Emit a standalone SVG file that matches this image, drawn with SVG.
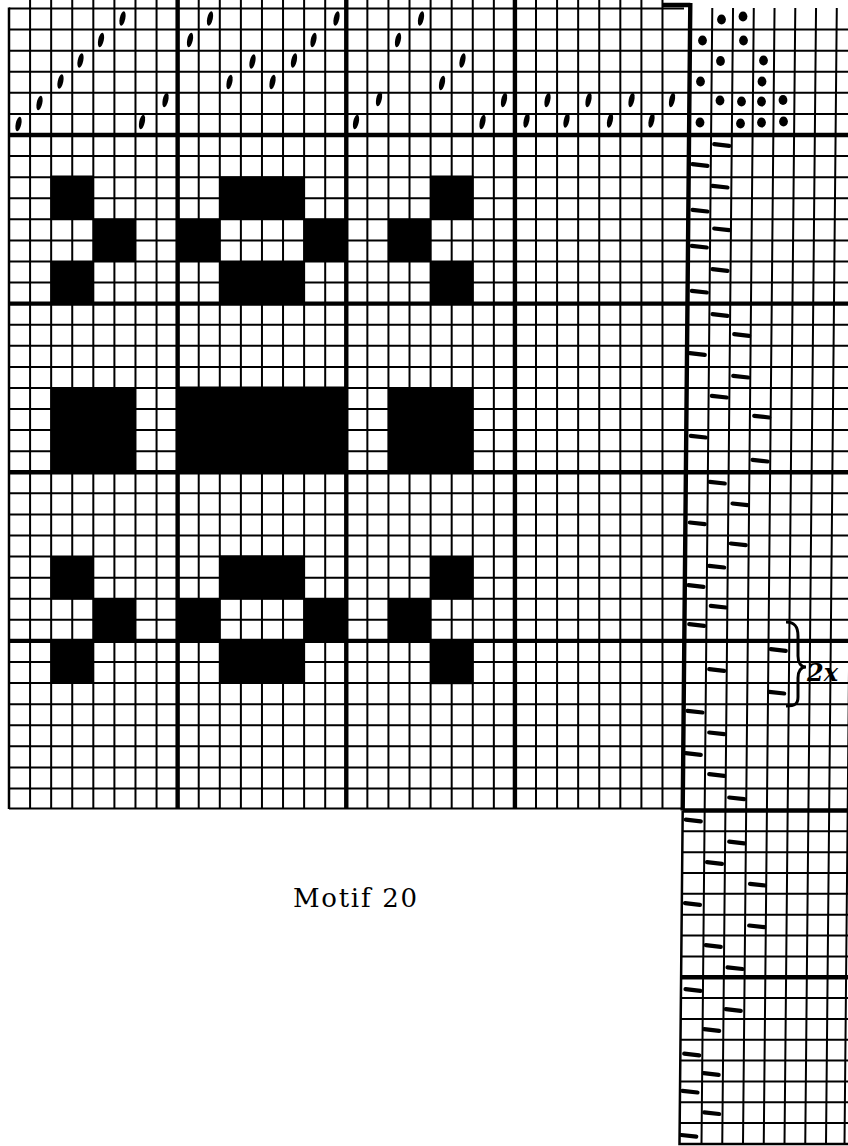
<svg xmlns="http://www.w3.org/2000/svg" xmlns:xlink="http://www.w3.org/1999/xlink" width="848" height="1146" viewBox="0 0 848 1146">
<style>
.thin{fill:none;stroke:#000;stroke-width:2}
.thick{fill:none;stroke:#000;stroke-width:4.4}
.edge{fill:none;stroke:#000;stroke-width:2.5}
.blk{fill:#000}
.mark{fill:#000}
.dash{fill:none;stroke:#000;stroke-width:4.2;stroke-linecap:round}
.title{font-family:"DejaVu Serif","Liberation Serif",serif;font-size:26px;fill:#000}
.hand{font-family:"DejaVu Serif","Liberation Serif",serif;font-size:24px;font-weight:bold;font-style:italic;fill:#000}
</style>
<defs>
<ellipse id="m" cx="0" cy="0" rx="2.8" ry="7.3" transform="rotate(12)" class="mark"/>
<ellipse id="t" cx="0" cy="0" rx="4.4" ry="5.1" class="mark"/>
<path id="d" d="M-7.5 -0.8L7.5 0.8" class="dash"/>
</defs>
<rect x="0" y="0" width="848" height="1146" fill="#fff"/>

<g id="grid-main">
<path class="thin" d="M30.08 0V808.5M51.16 0V808.5M72.24 0V808.5M93.32 0V808.5M114.4 0V808.5M135.48 0V808.5M156.56 0V808.5M198.72 0V808.5M219.8 0V808.5M240.88 0V808.5M261.96 0V808.5M283.04 0V808.5M304.12 0V808.5M325.2 0V808.5M367.36 0V808.5M388.44 0V808.5M409.52 0V808.5M430.6 0V808.5M451.68 0V808.5M472.76 0V808.5M493.84 0V808.5M536 0V808.5M557.08 0V808.5M578.16 0V808.5M599.24 0V808.5M620.32 0V808.5M641.4 0V808.5M662.48 0V808.5"/>
<path class="thin" d="M9 29.6H848M9 50.68H848M9 71.76H848M9 92.84H848M9 113.92H848M9 156.08H848M9 177.16H848M9 198.24H848M9 219.32H848M9 240.4H848M9 261.48H848M9 282.56H848M9 324.72H848M9 345.8H848M9 366.88H848M9 387.96H848M9 409.04H848M9 430.12H848M9 451.2H848M9 493.36H848M9 514.44H848M9 535.52H848M9 556.6H848M9 577.68H848M9 598.76H848M9 619.84H848M9 662H848M9 683.08H848M9 704.16H848M9 725.24H848M9 746.32H848M9 767.4H848M9 788.48H848"/>
<path class="thin" d="M9 8.52H684M9 808.5H683"/>
<path class="edge" d="M9 7.5V809"/>
<path class="thick" d="M177.64 0V808.5M346.28 0V808.5M514.92 0V808.5"/>
<path class="thick" d="M9 135H848M9 303.64H848M9 472.28H848M9 640.92H848"/>
</g>

<g id="grid-right">
<path class="thin" d="M712.29 8L701.5 1144M733.04 8L722.25 1144M753.79 8L743 1144M774.54 8L763.75 1144M795.29 8L784.5 1144M816.04 8L805.25 1144M836.79 8L826 1144M851 460L844.5 1144"/>
<path class="thick" d="M663 5H690.3M690.3 3L682.7 810.5"/>
<path class="thick" d="M682.7 810.5H848M681.1 977.22H848"/>
<path class="edge" d="M682.7 810.5L679.5 1144H848"/>
<path class="thin" d="M682.5 831.34H848M682.3 852.18H848M682.1 873.02H848M681.9 893.86H848M681.7 914.7H848M681.5 935.54H848M681.3 956.38H848M680.9 998.06H848M680.7 1018.9H848M680.5 1039.74H848M680.3 1060.58H848M680.1 1081.42H848M679.9 1102.26H848M679.7 1123.1H848"/>
</g>

<g id="drawdown">
<rect class="blk" x="50.5" y="175.5" width="43.5" height="44"/>
<rect class="blk" x="92.8" y="218.8" width="43.2" height="42.8"/>
<rect class="blk" x="50.5" y="261" width="43.5" height="42.8"/>
<rect class="blk" x="219.3" y="176.5" width="85.3" height="43"/>
<rect class="blk" x="177" y="218.8" width="43.3" height="42.8"/>
<rect class="blk" x="303.6" y="218.8" width="43.3" height="42.8"/>
<rect class="blk" x="219.3" y="261" width="85.3" height="42.8"/>
<rect class="blk" x="430" y="175.5" width="43.5" height="44"/>
<rect class="blk" x="387.9" y="218.8" width="43.3" height="42.8"/>
<rect class="blk" x="430" y="261" width="43.5" height="42.8"/>
<rect class="blk" x="50.5" y="387" width="85.5" height="85.3"/>
<rect class="blk" x="177" y="386.5" width="171" height="85.8"/>
<rect class="blk" x="387.9" y="387" width="85.5" height="85.3"/>
<rect class="blk" x="50.5" y="556" width="43.5" height="43.3"/>
<rect class="blk" x="92.8" y="598.2" width="43.2" height="43.2"/>
<rect class="blk" x="50.5" y="640.4" width="43.5" height="43.2"/>
<rect class="blk" x="219.3" y="555.5" width="85.3" height="43.8"/>
<rect class="blk" x="177" y="598.2" width="43.3" height="43.2"/>
<rect class="blk" x="303.6" y="598.2" width="43.3" height="43.2"/>
<rect class="blk" x="219.3" y="640.4" width="85.3" height="43.2"/>
<rect class="blk" x="430" y="556" width="43.5" height="43.3"/>
<rect class="blk" x="387.9" y="598.2" width="43.3" height="43.2"/>
<rect class="blk" x="430" y="640.4" width="43.5" height="43.8"/>
</g>

<g id="threading">
<use href="#m" x="18.5" y="124"/>
<use href="#m" x="39.5" y="103"/>
<use href="#m" x="60.5" y="81.5"/>
<use href="#m" x="80.5" y="60.5"/>
<use href="#m" x="101" y="40"/>
<use href="#m" x="122.5" y="18.5"/>
<use href="#m" x="142" y="122"/>
<use href="#m" x="165.5" y="100"/>
<use href="#m" x="190" y="40"/>
<use href="#m" x="210" y="18.5"/>
<use href="#m" x="229.5" y="82"/>
<use href="#m" x="252.5" y="61.5"/>
<use href="#m" x="272.5" y="82"/>
<use href="#m" x="294" y="60.5"/>
<use href="#m" x="313.5" y="40"/>
<use href="#m" x="336.5" y="18.5"/>
<use href="#m" x="356" y="122"/>
<use href="#m" x="379" y="99"/>
<use href="#m" x="398" y="40"/>
<use href="#m" x="421" y="18.5"/>
<use href="#m" x="442" y="83"/>
<use href="#m" x="462.5" y="60.5"/>
<use href="#m" x="482.5" y="122"/>
<use href="#m" x="504" y="100"/>
<use href="#m" x="526.5" y="120.5"/>
<use href="#m" x="547.5" y="100"/>
<use href="#m" x="566.5" y="120.5"/>
<use href="#m" x="588.5" y="100"/>
<use href="#m" x="610" y="120.5"/>
<use href="#m" x="631.5" y="100"/>
<use href="#m" x="651.5" y="120.5"/>
<use href="#m" x="672" y="100"/>
</g>

<g id="tieup">
<use href="#t" x="721.5" y="19.5"/>
<use href="#t" x="743" y="16.5"/>
<use href="#t" x="702.5" y="40.5"/>
<use href="#t" x="743.5" y="40.5"/>
<use href="#t" x="720.5" y="61"/>
<use href="#t" x="763.5" y="60.5"/>
<use href="#t" x="700.5" y="81.5"/>
<use href="#t" x="762" y="81.5"/>
<use href="#t" x="720" y="100.5"/>
<use href="#t" x="741.5" y="101.5"/>
<use href="#t" x="761.5" y="101.5"/>
<use href="#t" x="783" y="100"/>
<use href="#t" x="700" y="122.5"/>
<use href="#t" x="740.5" y="123.5"/>
<use href="#t" x="761.5" y="122.5"/>
<use href="#t" x="783.5" y="121.5"/>
</g>

<g id="treadling">
<use href="#d" x="721.7" y="145"/>
<use href="#d" x="700" y="165"/>
<use href="#d" x="720" y="186.7"/>
<use href="#d" x="700" y="210.7"/>
<use href="#d" x="721.7" y="229.3"/>
<use href="#d" x="699.3" y="246.7"/>
<use href="#d" x="720" y="270"/>
<use href="#d" x="699.3" y="291.7"/>
<use href="#d" x="720" y="315"/>
<use href="#d" x="741.7" y="335"/>
<use href="#d" x="697.3" y="354"/>
<use href="#d" x="740.7" y="376.7"/>
<use href="#d" x="719.3" y="396.7"/>
<use href="#d" x="761.7" y="416.7"/>
<use href="#d" x="698.3" y="436.7"/>
<use href="#d" x="760" y="460.7"/>
<use href="#d" x="717.3" y="482.7"/>
<use href="#d" x="740" y="504.3"/>
<use href="#d" x="697.3" y="523.3"/>
<use href="#d" x="738.3" y="544.3"/>
<use href="#d" x="716.7" y="566.7"/>
<use href="#d" x="696" y="586"/>
<use href="#d" x="718.3" y="606.7"/>
<use href="#d" x="696.7" y="625"/>
<use href="#d" x="778.3" y="650"/>
<use href="#d" x="716.7" y="670"/>
<use href="#d" x="776.7" y="692.7"/>
<use href="#d" x="695" y="711.7"/>
<use href="#d" x="716.7" y="733.3"/>
<use href="#d" x="693.3" y="754"/>
<use href="#d" x="716.7" y="775"/>
<use href="#d" x="736.7" y="798.3"/>
<use href="#d" x="693.3" y="820.5"/>
<use href="#d" x="736.7" y="842.5"/>
<use href="#d" x="714.5" y="863"/>
<use href="#d" x="757.5" y="884.7"/>
<use href="#d" x="692.5" y="904"/>
<use href="#d" x="756.7" y="926.3"/>
<use href="#d" x="713.3" y="946"/>
<use href="#d" x="735" y="968.2"/>
<use href="#d" x="693" y="990"/>
<use href="#d" x="733.3" y="1010"/>
<use href="#d" x="711.7" y="1030"/>
<use href="#d" x="691.7" y="1054.5"/>
<use href="#d" x="711.2" y="1074"/>
<use href="#d" x="690" y="1091.7"/>
<use href="#d" x="711.7" y="1113.2"/>
<use href="#d" x="688.8" y="1135.8"/>
</g>

<g id="repeat-bracket">
<path d="M786 622C795 622 798 627 798 636L798 656C798 663 801 667 806 667C801 667 798 671 798 678L798 697C798 704 795 706 786 706" fill="none" stroke="#000" stroke-width="3"/>
<text class="hand" x="807" y="681">2x</text>
</g>

<g id="title">
<text class="title" x="293" y="907" textLength="124" lengthAdjust="spacing">Motif 20</text>
</g>
</svg>
